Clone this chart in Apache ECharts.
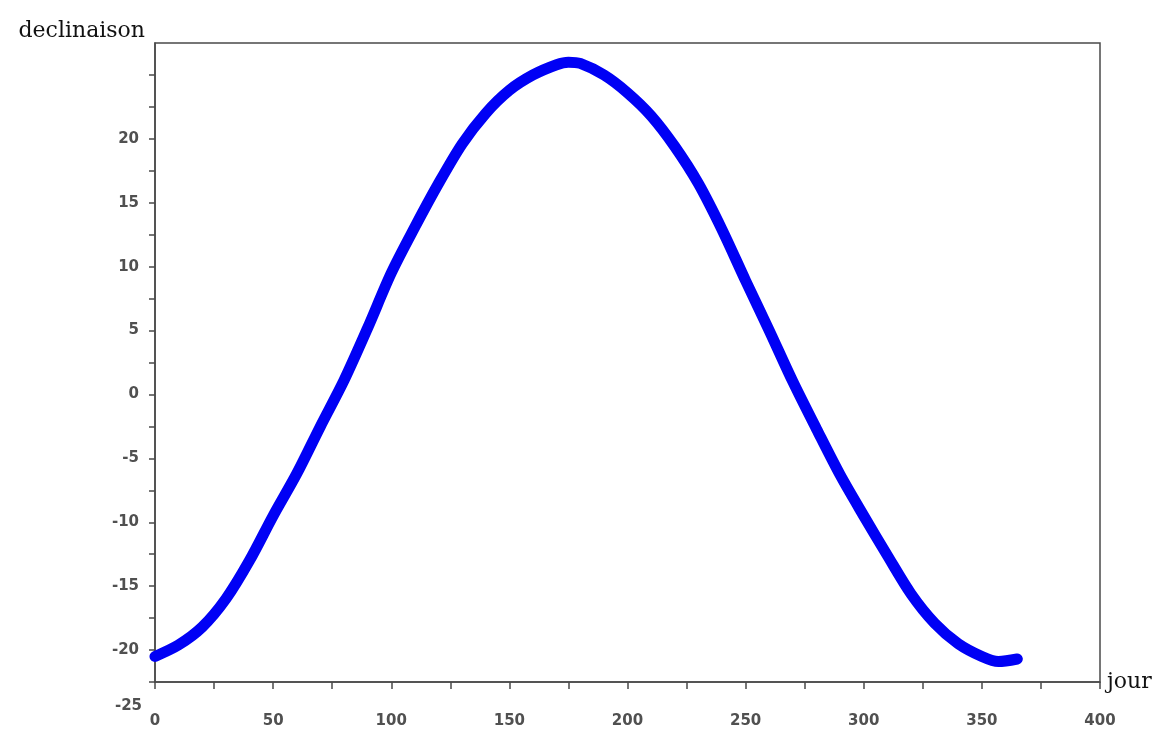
<!DOCTYPE html>
<html>
<head>
<meta charset="utf-8">
<title>declinaison</title>
<script src="https://cdn.jsdelivr.net/npm/echarts@6/dist/echarts.min.js"></script>
<style>
    html, body { margin: 0; padding: 0; background: #fff; }
    #chartShow { width: 1166px; height: 738px; }
</style>
</head>
<body>
<div id="chartShow"></div>
<script>
var jours = [0, 10, 20, 30, 40, 50, 60, 70, 80, 90, 100, 110, 120, 130, 140, 150, 160, 170, 175,
    180, 190, 200, 210, 220, 230, 240, 250, 260, 270, 280, 290, 300, 310, 320, 330, 340, 350, 357, 365];
var declinaison = [-20.5, -19.6, -18.2, -16.0, -13.0, -9.5, -6.2, -2.5, 1.1, 5.2, 9.5, 13.1, 16.5, 19.6, 22.0, 23.8, 25.0, 25.8, 26.0,
    25.9, 25.0, 23.6, 21.8, 19.4, 16.5, 12.9, 8.9, 5.0, 1.0, -2.7, -6.3, -9.5, -12.6, -15.6, -17.9, -19.5, -20.5, -20.9, -20.7];
var yLabels = [-20, -15, -10, -5, 0, 5, 10, 15, 20];

var points = [];
for (let i = 0; i < jours.length; i++) {
    points.push([jours[i], declinaison[i]]);
}

var axisColor = '#4a4a4a';
var labelStyle = {
    color: '#505050',
    fontFamily: 'DejaVu Sans, sans-serif',
    fontWeight: 'bold',
    fontSize: 15
};
var nameStyle = {
    fontFamily: 'DejaVu Serif, serif',
    fontSize: 22,
    color: '#111'
};

var option = {
    backgroundColor: '#ffffff',
    animation: false,
    grid: {
        left: 155,
        right: 66,
        top: 43,
        bottom: 56,
        show: true,
        borderColor: axisColor,
        borderWidth: 1.5,
        backgroundColor: 'transparent'
    },
    xAxis: {
        type: 'value',
        min: 0,
        max: 400,
        interval: 50,
        name: 'jour',
        nameLocation: 'end',
        nameGap: 7,
        nameTextStyle: Object.assign({ verticalAlign: 'middle' }, nameStyle),
        axisLine: { onZero: false, lineStyle: { color: axisColor, width: 1.5 } },
        axisTick: { length: 7, lineStyle: { color: axisColor, width: 1.5 } },
        minorTick: { show: true, splitNumber: 2, length: 7, lineStyle: { color: axisColor, width: 1.5 } },
        axisLabel: Object.assign({ margin: 32 }, labelStyle),
        splitLine: { show: false }
    },
    yAxis: {
        type: 'value',
        min: -22.5,
        max: 27.5,
        interval: 2.5,
        name: 'declinaison',
        nameLocation: 'end',
        nameGap: 12,
        nameTextStyle: Object.assign({
            align: 'right',
            verticalAlign: 'middle',
            padding: [0, 10, 0, 0]
        }, nameStyle),
        axisLine: { onZero: false, lineStyle: { color: axisColor, width: 1.5 } },
        axisTick: { length: 6, lineStyle: { color: axisColor, width: 1.5 } },
        axisLabel: Object.assign({
            margin: 16,
            showMaxLabel: false,
            formatter: function (v) {
                return yLabels.indexOf(v) >= 0 ? String(v) : '';
            }
        }, labelStyle),
        splitLine: { show: false }
    },
    // etiquette -25 sous l'axe, comme sur la figure d'origine
    graphic: [{
        type: 'text',
        x: 142,
        y: 706,
        style: {
            text: '-25',
            align: 'right',
            verticalAlign: 'middle',
            fill: labelStyle.color,
            font: 'bold 15px DejaVu Sans, sans-serif'
        }
    }],
    series: [{
        type: 'line',
        data: points,
        smooth: 0.3,
        showSymbol: false,
        lineStyle: {
            color: '#0000f5',
            width: 11,
            cap: 'round',
            join: 'round'
        }
    }]
};

var myChart = echarts.init(document.getElementById('chartShow'));
myChart.setOption(option);
</script>
</body>
</html>
